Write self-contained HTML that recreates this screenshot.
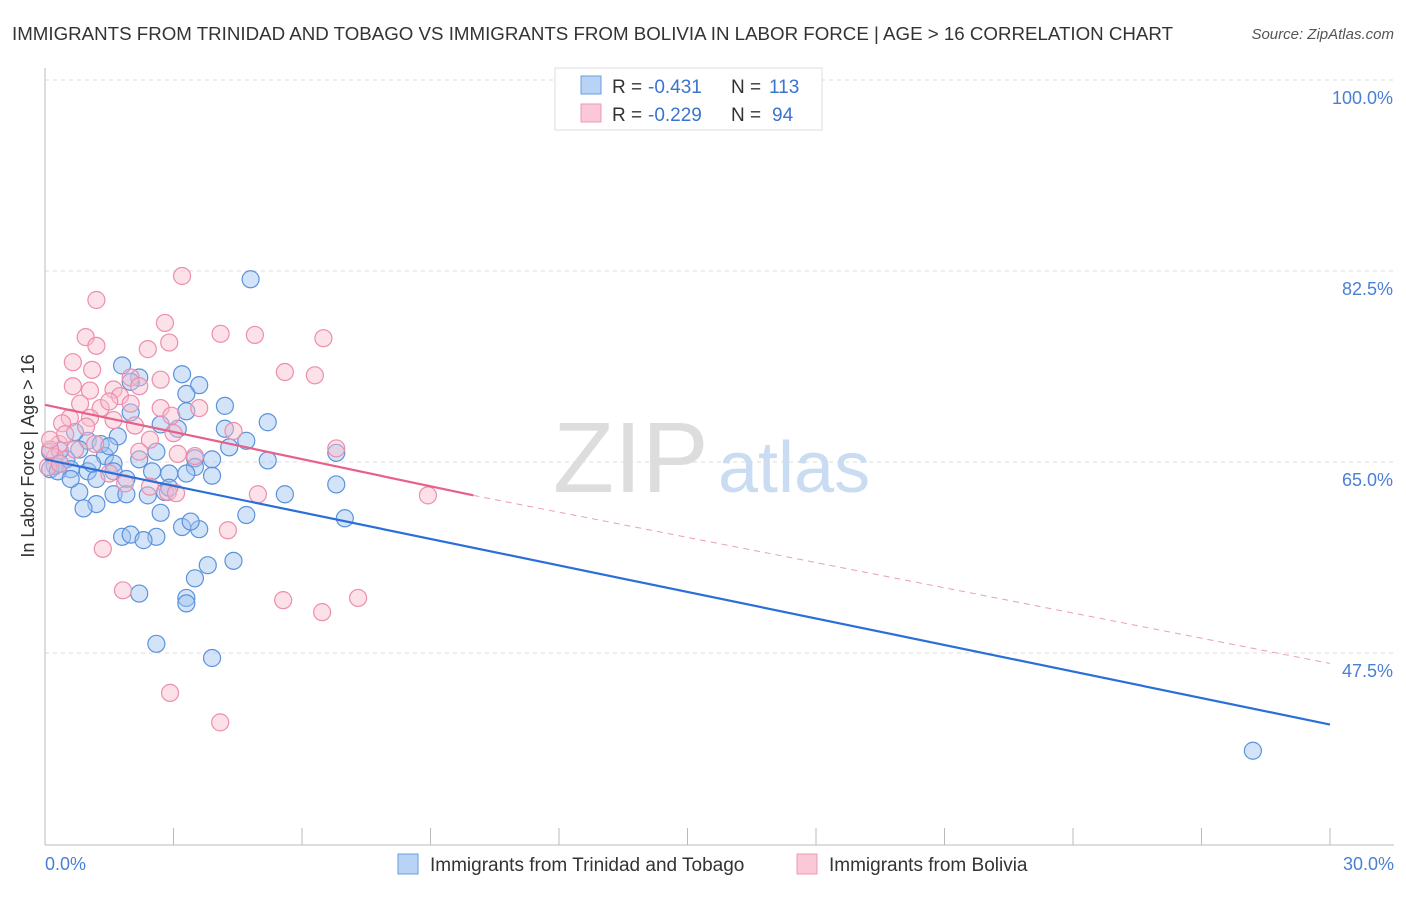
<!DOCTYPE html>
<html><head><meta charset="utf-8"><style>
body{margin:0;background:#fff;font-family:"Liberation Sans",sans-serif;}
svg text{font-family:"Liberation Sans",sans-serif;}
</style></head><body>
<svg width="1406" height="892" viewBox="0 0 1406 892" xmlns="http://www.w3.org/2000/svg">
<text x="12" y="40" font-size="18" fill="#333" textLength="1161" lengthAdjust="spacingAndGlyphs">IMMIGRANTS FROM TRINIDAD AND TOBAGO VS IMMIGRANTS FROM BOLIVIA IN LABOR FORCE | AGE &gt; 16 CORRELATION CHART</text>
<text x="1394" y="39" font-size="15" fill="#555" font-style="italic" text-anchor="end">Source: ZipAtlas.com</text>
<g id="grid"></g>
<text x="553" y="492" font-size="100" fill="#ddd" font-family="Liberation Serif">ZIP</text>
<text x="718" y="492" font-size="72" fill="#c9dcf2">atlas</text>
<line x1="45" y1="68" x2="45" y2="845" stroke="#bbb"/>
<line x1="45" y1="845" x2="1394" y2="845" stroke="#bbb"/>
<g id="xticks"></g>
<text x="45" y="870" font-size="18" fill="#4a7fd6">0.0%</text>
<text x="1394" y="870" font-size="18" fill="#4a7fd6" text-anchor="end">30.0%</text>
<text transform="translate(34,456) rotate(-90)" font-size="18" fill="#333" text-anchor="middle">In Labor Force | Age &gt; 16</text>
<g id="pts"></g>
<g id="lines"></g>
<g>
<rect x="555" y="68" width="267" height="62" fill="#fff" stroke="#ddd"/>
<rect x="581" y="76" width="20" height="18" fill="#b8d3f5" stroke="#6b9de0"/>
<rect x="581" y="104" width="20" height="18" fill="#fac8d6" stroke="#ee9ab4"/>
<g font-size="19" fill="#333">
<text x="612" y="93">R =</text><text x="648" y="93" fill="#3a74d0">-0.431</text><text x="731" y="93">N =</text><text x="769" y="93" fill="#3a74d0">113</text></g>
<g font-size="19" fill="#333">
<text x="612" y="121">R =</text><text x="648" y="121" fill="#3a74d0">-0.229</text><text x="731" y="121">N =</text><text x="772" y="121" fill="#3a74d0">94</text></g>
</g>
<g>
<rect x="398" y="854" width="20" height="20" fill="#b8d3f5" stroke="#6b9de0"/>
<text x="430" y="871" font-size="19" fill="#333">Immigrants from Trinidad and Tobago</text>
<rect x="797" y="854" width="20" height="20" fill="#fac8d6" stroke="#ee9ab4"/>
<text x="829" y="871" font-size="19" fill="#333">Immigrants from Bolivia</text>
</g>
</svg>
<script>
const yTicks=[100,82.5,65,47.5];
const xTickCount=10;
const blueX=[4.8,1.8,3.2,2.2,3.6,3.3,2.0,4.2,3.3,5.2,2.0,2.7,3.1,4.2,1.7,4.7,4.3,1.0,1.3,2.6,3.5,3.9,5.2,1.4,1.6,0.8,0.5,0.6,0.35,0.23,0.12,3.5,2.9,1.6,1.0,1.2,3.3,3.9,1.9,6.8,6.8,5.6,1.6,2.8,2.9,2.4,1.9,0.8,1.2,0.9,2.7,3.2,3.6,3.4,4.7,7.0,1.8,2.0,2.6,2.3,4.4,3.8,3.5,2.2,3.3,3.3,2.6,3.9,28.2,0.12,0.3,0.6,1.1,1.5,2.2,2.5,0.35,0.7];
const blueY=[83.3,75.4,74.6,74.3,73.6,72.8,73.9,71.7,71.2,70.2,71.1,70.0,69.6,69.6,68.9,68.5,67.9,68.5,68.2,67.5,66.9,66.8,66.7,67.1,66.4,67.7,66.8,65.9,66.4,66.2,65.9,66.1,65.5,65.7,65.7,65.0,65.5,65.3,65.0,67.4,64.5,63.6,63.6,63.8,64.2,63.5,63.6,63.8,62.7,62.3,61.9,60.6,60.4,61.1,61.7,61.4,59.7,59.9,59.7,59.4,57.5,57.1,55.9,54.5,54.1,53.6,49.9,48.6,40.1,67.5,65.7,65.0,66.4,68.0,66.8,65.7,67.6,69.3];
const pinkX=[3.2,1.2,2.8,0.95,1.2,4.9,4.1,6.5,2.9,2.4,0.65,1.1,2.0,2.7,5.6,6.3,0.65,1.05,1.6,2.2,1.75,0.82,1.3,1.5,2.0,2.7,2.95,3.6,0.58,1.05,1.6,2.1,3.0,0.4,0.96,0.33,0.7,1.17,2.45,3.1,3.5,2.2,4.4,6.8,0.23,0.12,0.07,0.35,1.5,1.87,2.45,2.87,3.06,4.97,8.94,1.35,4.27,1.82,5.56,6.47,7.31,2.92,4.09,0.12,0.47];
const pinkY=[83.6,81.4,79.3,78.0,77.2,78.2,78.3,77.9,77.5,76.9,75.7,75.0,74.3,74.1,74.8,74.5,73.5,73.1,73.2,73.5,72.6,71.9,71.5,72.1,71.9,71.5,70.8,71.5,70.6,70.6,70.4,69.9,69.2,70.1,69.8,68.2,67.7,68.2,68.6,67.3,67.1,67.5,69.4,67.8,67.0,67.7,66.1,66.4,65.5,64.6,64.3,63.8,63.7,63.6,63.5,58.6,60.3,54.8,53.9,52.8,54.1,45.4,42.7,68.6,69.1];
const blueTrend=[[0,66.8],[30,42.5]];
const pinkTrendSolid=[[0,71.8],[10,63.5]];
const pinkTrendDash=[[10,63.5],[30,48.1]];
const NS='http://www.w3.org/2000/svg';
const X=v=>45+v/30*1285;
const Y=v=>97+(100-v)*10.914;
function mk(tag,attrs,parent){const e=document.createElementNS(NS,tag);for(const k in attrs)e.setAttribute(k,attrs[k]);parent.appendChild(e);return e;}
const grid=document.getElementById('grid');
yTicks.forEach(t=>{
 const l=mk('line',{x1:45,x2:1394,y1:Y(t)-17,y2:Y(t)-17,stroke:'#ddd','stroke-dasharray':'4,4'},grid);
 
 
 const tx=mk('text',{x:1393,y:Y(t)+7,'font-size':18,fill:'#4a7fd6','text-anchor':'end'},grid);
 tx.textContent=t.toFixed(1)+'%';
 
 
});
const xt=document.getElementById('xticks');
for(let i=1;i<=xTickCount;i++){
 const l=mk('line',{x1:X(i*3),x2:X(i*3),y1:828,y2:845,stroke:'#bbb'},xt);
 
 
}
const pts=document.getElementById('pts');
blueX.forEach((v,i)=>{
 const c=mk('circle',{cx:X(v),cy:Y(blueY[i]),r:8.5,fill:'rgba(160,196,240,0.45)',stroke:'#5b92dc','stroke-width':1.2},pts);
 
 
});
pinkX.forEach((v,i)=>{
 const c=mk('circle',{cx:X(v),cy:Y(pinkY[i]),r:8.5,fill:'rgba(248,188,206,0.45)',stroke:'#ec8eac','stroke-width':1.2},pts);
 
 
});
const ln=document.getElementById('lines');
function seg(p,stroke,w,dash,name){
 const l=mk('line',{x1:X(p[0][0]),y1:Y(p[0][1]),x2:X(p[1][0]),y2:Y(p[1][1]),stroke:stroke,'stroke-width':w},ln);
 if(dash)l.setAttribute('stroke-dasharray',dash);
 
 
}
seg(blueTrend,'#2a6fd8',2.2,null,'trend-line-trinidad');
seg(pinkTrendSolid,'#e8608a',2.2,null,'trend-line-bolivia');
seg(pinkTrendDash,'#e8a0b6',1,'6,5','trend-line-bolivia-extrapolated');
</script>
</body></html>
